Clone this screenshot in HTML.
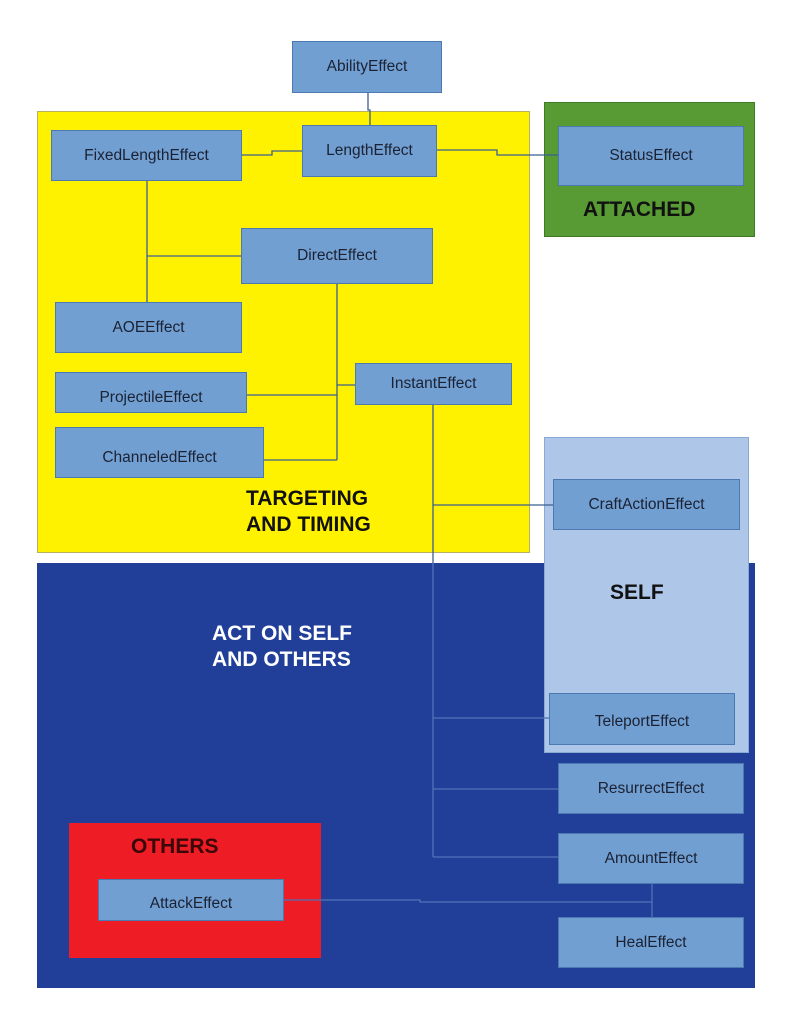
<!DOCTYPE html>
<html><head><style>
body{margin:0;width:791px;height:1024px;background:#fff;position:relative;overflow:hidden;font-family:"Liberation Sans",sans-serif}
.r{position:absolute;box-sizing:border-box}
.b{position:absolute;box-sizing:border-box;background:#729fd2;border:1.5px solid #4d79b3;color:#1a2233;font-size:15.5px;display:flex;align-items:center;justify-content:center}
.t{position:absolute;font-weight:bold;font-size:21px;line-height:26px}
svg{position:absolute;left:0;top:0}
</style></head><body>
<div class="r" style="left:37px;top:111px;width:493px;height:442px;background:#fff200;border:1px solid #b8b060"></div>
<div class="r" style="left:544px;top:102px;width:211px;height:135px;background:#589a33;border:1px solid #3f7a25"></div>
<div class="r" style="left:37px;top:563px;width:718px;height:425px;background:#213f99"></div>
<div class="r" style="left:544px;top:437px;width:205px;height:316px;background:#aec6e8;border:1px solid #8aaad5"></div>
<div class="r" style="left:69px;top:823px;width:252px;height:135px;background:#ee1c24"></div>
<div class="b" style="left:292px;top:41px;width:150px;height:52px">AbilityEffect</div>
<div class="b" style="left:51px;top:130px;width:191px;height:51px">FixedLengthEffect</div>
<div class="b" style="left:302px;top:125px;width:135px;height:52px">LengthEffect</div>
<div class="b" style="left:558px;top:126px;width:186px;height:60px">StatusEffect</div>
<div class="b" style="left:241px;top:228px;width:192px;height:56px">DirectEffect</div>
<div class="b" style="left:55px;top:302px;width:187px;height:51px">AOEEffect</div>
<div class="b" style="left:55px;top:372px;width:192px;height:41px;padding-top:10px">ProjectileEffect</div>
<div class="b" style="left:55px;top:427px;width:209px;height:51px;padding-top:10px">ChanneledEffect</div>
<div class="b" style="left:355px;top:363px;width:157px;height:42px">InstantEffect</div>
<div class="b" style="left:553px;top:479px;width:187px;height:51px">CraftActionEffect</div>
<div class="b" style="left:549px;top:693px;width:186px;height:52px;padding-top:6px">TeleportEffect</div>
<div class="b" style="left:558px;top:763px;width:186px;height:51px">ResurrectEffect</div>
<div class="b" style="left:558px;top:833px;width:186px;height:51px">AmountEffect</div>
<div class="b" style="left:558px;top:917px;width:186px;height:51px">HealEffect</div>
<div class="b" style="left:98px;top:879px;width:186px;height:42px;padding-top:8px">AttackEffect</div>
<svg width="791" height="1024"><g fill="none" stroke="#3b5f8f" stroke-width="1.3">
<path d="M368 93V110H370V125"/>
<path d="M242 155H272V151H302"/>
<path d="M437 150H497V155H558"/>
<path d="M147 181V302M147 256H241"/>
<path d="M337 284V460M247 395H337M264 460H337M355 385H337"/>
<path d="M433 405V563M433 505H553"/>
</g><g fill="none" stroke="#4f73b8" stroke-width="1.3">
<path d="M433 563V857M433 718H549M433 789H558M433 857H558"/>
<path d="M652 884V917M284 900H420V902H652"/>
</g></svg>
<div class="t" style="left:246px;top:486px;color:#111">TARGETING<br>AND TIMING</div>
<div class="t" style="left:583px;top:197px;color:#111">ATTACHED</div>
<div class="t" style="left:610px;top:580px;color:#111">SELF</div>
<div class="t" style="left:212px;top:621px;color:#fff">ACT ON SELF<br>AND OTHERS</div>
<div class="t" style="left:131px;top:834px;color:#3a0808">OTHERS</div>
</body></html>
